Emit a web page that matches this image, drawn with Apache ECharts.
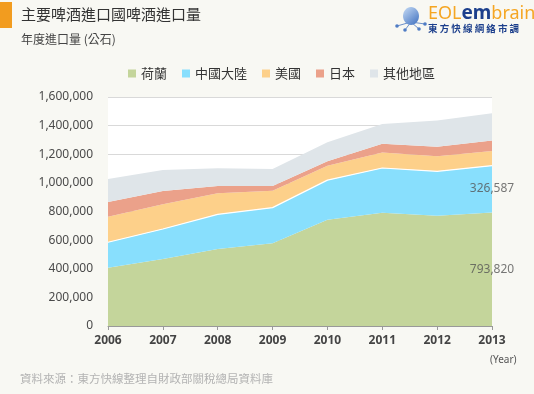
<!DOCTYPE html>
<html>
<head>
<meta charset="utf-8">
<script src="https://cdn.jsdelivr.net/npm/echarts@6/dist/echarts.min.js"></script>
<style>
html,body{margin:0;padding:0;background:#f8f8f3;}
#c{width:534px;height:394px;}
</style>
</head>
<body>
<div id="c"></div>
<script>
var years = ['2006','2007','2008','2009','2010','2011','2012','2013'];
var netherlands = [407000, 468000, 538000, 578000, 743000, 792000, 771000, 793820];
var mainlandChina = [178000, 210000, 242000, 249000, 276000, 312000, 310000, 326587];
var usa = [179000, 172000, 147000, 118000, 101000, 109000, 105000, 103000];
var japan = [102000, 93000, 51000, 33000, 31000, 61000, 67000, 72000];
var others = [161000, 147000, 124000, 119000, 132000, 137000, 182000, 191000];
var seriesNames = ['荷蘭','中國大陸','美國','日本','其他地區'];
var yTicks = [0, 200000, 400000, 600000, 800000, 1000000, 1200000, 1400000, 1600000];

var colors = ['#c4d59b','#88dffd','#fdd08a','#eba18a','#dfe5e9'];
var font = '"Noto Sans", "Noto Sans CJK TC", sans-serif';
var cjk = '"Noto Sans CJK TC", sans-serif';

var dataSets = [netherlands, mainlandChina, usa, japan, others];
var series = dataSets.map(function(d, i){
  return {
    name: seriesNames[i], type: 'line', stack: 'total', data: d,
    symbol: 'none', smooth: false,
    lineStyle: {width: i === 1 ? 1.2 : 0, color: '#ffffff'},
    areaStyle: {color: colors[i], opacity: 1},
    itemStyle: {color: colors[i]},
    z: 2
  };
});
var last = years.length - 1;
function fmt(v){ return v.toLocaleString('en-US'); }
series.push({
  type: 'scatter', symbolSize: 0, silent: true, z: 5,
  data: [
    {value: [last, netherlands[last] / 2], raw: netherlands[last]},
    {value: [last, netherlands[last] + mainlandChina[last] / 2], raw: mainlandChina[last]}
  ],
  label: {show: true, position: 'inside', color: '#555', fontSize: 12, fontFamily: font,
    formatter: function(p){ return fmt(p.data.raw); }}
});

var chart = echarts.init(document.getElementById('c'));
chart.setOption({
  backgroundColor: '#f8f8f3',
  animation: false,
  grid: {left: 108, right: 42, top: 97, bottom: 68, show: true, backgroundColor: '#ffffff', borderWidth: 0},
  legend: {
    data: seriesNames, left: 123, top: 62, icon: 'rect', itemWidth: 8, itemHeight: 8, itemGap: 15,
    textStyle: {color: '#333', fontSize: 13, fontFamily: cjk}
  },
  xAxis: {
    type: 'category', data: years, boundaryGap: false,
    axisLine: {lineStyle: {color: '#999', width: 1}},
    axisTick: {show: true, length: 4, lineStyle: {color: '#999'}},
    axisLabel: {color: '#444', fontSize: 12, fontWeight: 'bold', fontFamily: font, margin: 9}
  },
  yAxis: {
    type: 'value', min: yTicks[0], max: yTicks[yTicks.length-1], interval: yTicks[1]-yTicks[0],
    axisLine: {show: false}, axisTick: {show: false},
    splitLine: {lineStyle: {color: '#d9d9d9'}},
    axisLabel: {color: '#4a4a4a', fontSize: 12, fontFamily: font, margin: 15, formatter: function(v){ return fmt(v); }}
  },
  graphic: [
    {type: 'rect', shape: {x: 0, y: 2, width: 12, height: 26}, style: {fill: '#f29c1f'}},
    {type: 'text', left: 21, top: 7, style: {text: '主要啤酒進口國啤酒進口量', fill: '#333', font: '15px ' + cjk}},
    {type: 'text', left: 21, top: 33, style: {text: '年度進口量 (公石)', fill: '#444', font: '12px ' + cjk}},
    {type: 'text', left: 20, top: 373, style: {text: '資料來源：東方快線整理自財政部關稅總局資料庫', fill: '#b3b3b3', font: '11.5px ' + cjk}},
    {type: 'text', left: 490, top: 355, style: {text: '(Year)', fill: '#555', font: '10px ' + font}},
    // logo
    {type: 'line', shape: {x1: 411, y1: 22, x2: 397, y2: 26}, style: {stroke: '#6b8fc9', lineWidth: 1}},
    {type: 'line', shape: {x1: 411, y1: 22, x2: 405, y2: 30}, style: {stroke: '#6b8fc9', lineWidth: 1}},
    {type: 'line', shape: {x1: 411, y1: 22, x2: 419, y2: 29}, style: {stroke: '#6b8fc9', lineWidth: 1}},
    {type: 'line', shape: {x1: 411, y1: 22, x2: 425, y2: 24}, style: {stroke: '#6b8fc9', lineWidth: 1}},
    {type: 'circle', shape: {cx: 397, cy: 26, r: 1.8}, style: {fill: '#4f7cc4'}},
    {type: 'circle', shape: {cx: 405, cy: 30, r: 1.8}, style: {fill: '#4f7cc4'}},
    {type: 'circle', shape: {cx: 419, cy: 29, r: 1.8}, style: {fill: '#4f7cc4'}},
    {type: 'circle', shape: {cx: 425, cy: 24, r: 1.8}, style: {fill: '#4f7cc4'}},
    {type: 'ellipse', shape: {cx: 411, cy: 16, rx: 8, ry: 9},
      style: {fill: new echarts.graphic.LinearGradient(0,0,1,1,[{offset:0,color:'#c7dcf5'},{offset:1,color:'#3d6fbf'}])}},
    {type: 'text', left: 428, top: 4, style: {
      text: '{a|EOL}{b|em}{a|brain}',
      rich: {
        a: {fill: '#f5a623', font: '18px ' + font},
        b: {fill: '#1c3f8c', font: 'bold 19px ' + font}
      }
    }},
    {type: 'text', left: 428, top: 24, style: {text: '東 方 快 線 網 絡 市 調', fill: '#1c3f8c', font: 'bold 9.5px ' + cjk}}
  ],
  series: series
});
</script>
</body>
</html>
